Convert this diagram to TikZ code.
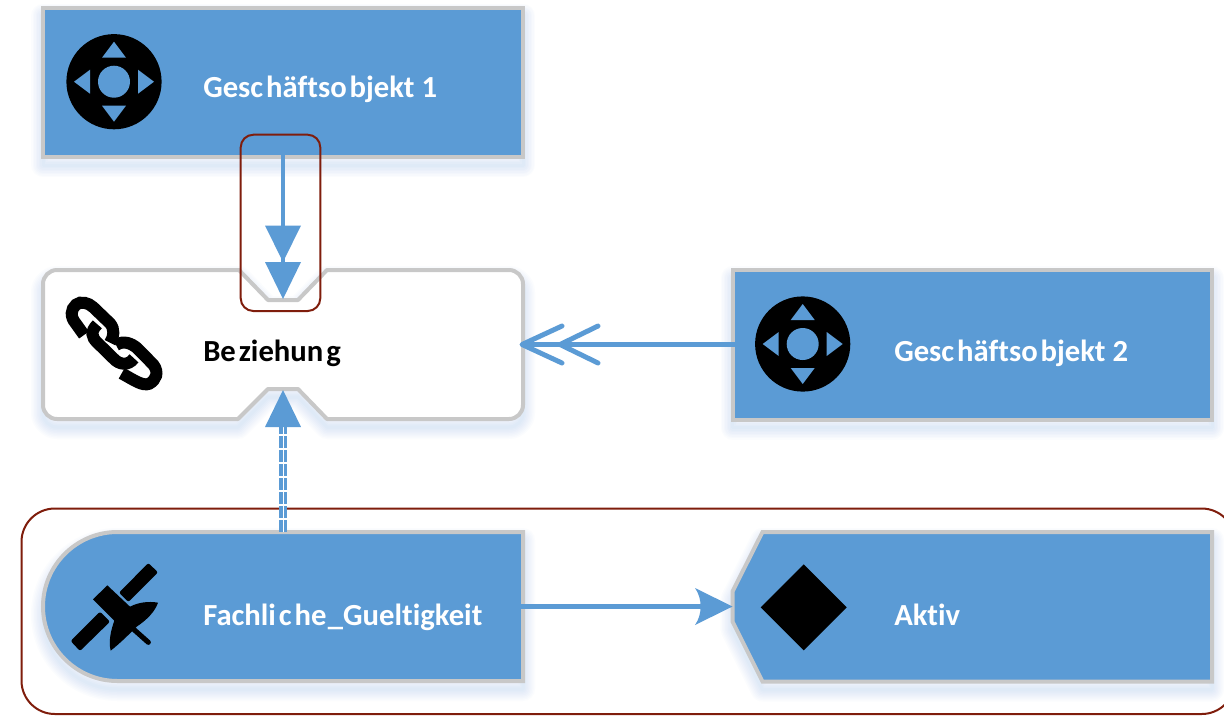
\documentclass[tikz,border=0pt]{standalone}
\usepackage{fontspec}
\setmainfont[RawFeature={-liga;-clig;-dlig}]{Carlito}
\usetikzlibrary{arrows.meta,calc}
\definecolor{bluefill}{HTML}{5B9BD5}
\definecolor{edgegray}{HTML}{C8C8C8}
\definecolor{darkred}{HTML}{7F1D0C}
\newcommand{\softshadow}[1]{%
  \foreach \w in {3,6,9,12,15,18,21,24}{
    \draw[bluefill,opacity=0.025,line width=\w*0.75pt,line join=round,shift={(0,8)}] #1;
  }}
\newcommand{\padicon}[2]{%
  \begin{scope}[shift={(#1,#2)}]
    \fill[black] (0,0) circle[radius=47.6*0.75pt];
    \fill[bluefill] (0,0) circle[radius=16*0.75pt];
    \fill[bluefill] (0,-40) -- (12,-24) -- (-12,-24) -- cycle;
    \fill[bluefill] (0,40) -- (12,24) -- (-12,24) -- cycle;
    \fill[bluefill] (-40,0) -- (-24,12) -- (-24,-12) -- cycle;
    \fill[bluefill] (40,0) -- (24,12) -- (24,-12) -- cycle;
  \end{scope}}
\newcommand{\pathone}{(43,7.5) rectangle (523,157)}
\newcommand{\pathtwo}{(732.5,270) rectangle (1212,419.5)}
\newcommand{\pathbez}{(239,270) -- (57,270) .. controls (49.3,270) and (43,276.3) .. (43,284) -- (43,405) .. controls (43,412.7) and (49.3,419) .. (57,419) -- (238,419) -- (268,389) -- (298,389) -- (327,419) -- (509,419) .. controls (516.7,419) and (523,412.7) .. (523,405) -- (523,284) .. controls (523,276.3) and (516.7,270) .. (509,270) -- (327,270) -- (298,300) -- (268,300) -- cycle}
\newcommand{\pathfach}{(523,532) -- (117.5,532) .. controls (76.4,532) and (43,565.4) .. (43,606.5) .. controls (43,647.6) and (76.4,681) .. (117.5,681) -- (523,681) -- cycle}
\newcommand{\pathaktiv}{(762.5,532) -- (732.5,591.5) -- (732.5,621.5) -- (762.5,681.5) -- (1212,681.5) -- (1212,532) -- cycle}
\newcommand{\gp}{\kern 2.2pt\relax}
\tikzset{
  x=0.75pt,y=-0.75pt,
  frameline/.style={draw=edgegray,line width=3pt,line join=miter},
  bluearea/.style={frameline,fill=bluefill},
  ghost/.style={inner sep=0pt,outer sep=0pt,minimum width=#1*0.75pt,minimum height=149.5*0.75pt},
  redframe/.style={draw=darkred,line width=1.5pt},
  flow/.style={draw=bluefill,line width=3.7pt},
  caption/.style={anchor=base west,inner sep=0pt,font=\fontsize{23pt}{27pt}\selectfont\bfseries},
}
\begin{document}
\begin{tikzpicture}
\useasboundingbox (0,0) rectangle (1224,715);
\clip (0,0) rectangle (1224,715);
\fill[white] (0,0) rectangle (1224,715);

% soft shadows
\softshadow{\pathone}
\softshadow{\pathtwo}
\softshadow{\pathbez}
\softshadow{\pathfach}
\softshadow{\pathaktiv}

% anchor nodes
\node[ghost=480] (g1) at (283,82.25) {};
\node[ghost=480] (bez) at (283,344.5) {};
\node[ghost=479.5] (g2) at (972.25,344.5) {};
\node[ghost=480] (fach) at (283,606.5) {};
\node[ghost=479.5] (aktiv) at (972.25,606.5) {};
\coordinate (beztop) at (283,299);
\coordinate (bezbottom) at (283,390);
\coordinate (dashend) at (283,427);
\coordinate (midhead) at (283,262);

% large group frame
\draw[redframe,rounded corners=25pt] (21.5,508.5) rectangle (1235,714);

% shapes
\draw[bluearea] \pathone;
\draw[bluearea] \pathtwo;
\draw[frameline,fill=white,line join=round] \pathbez;
\draw[bluearea] \pathfach;
\draw[bluearea] \pathaktiv;

% icons
\padicon{114}{81.7}
\padicon{802.7}{344}
\fill[black] (803.7,564.3) -- (846.7,607.3) -- (803.7,650.3) -- (760.7,607.3) -- cycle;

% chain icon
\begin{scope}[shift={(60,290)},x=0.25pt,y=-0.25pt,line width=9pt,black]
  \draw (72,135) -- (47,100) .. controls (30,80) and (32,58) .. (48,44) .. controls (62,32) and (85,38) .. (100,52) -- (150,100) .. controls (165,118) and (162,140) .. (150,158);
  \draw (112,103) .. controls (90,125) and (95,142) .. (112,158) -- (160,205) .. controls (178,225) and (205,228) .. (222,205);
  \draw (168,165) .. controls (190,150) and (215,160) .. (232,175) -- (280,224) .. controls (298,248) and (288,270) .. (268,281) .. controls (248,289) and (225,272) .. (185,250);
\end{scope}

% satellite icon
\begin{scope}[shift={(65,555)},x=0.25pt,y=-0.25pt]
  \fill[black,rounded corners=1.5pt] (250,24) -- (279,52) -- (190,141) -- (162,113) -- cycle;
  \fill[black,rounded corners=1.5pt] (105,170) -- (135,200) -- (45,288) -- (17,258) -- cycle;
  \draw[black,line width=3.8pt,line cap=round] (205,222) -- (250,262);
  \fill[black] (127,91) -- (84,133) -- (148,197) .. controls (138,225) and (130,258) .. (137,287) .. controls (165,265) and (190,240) .. (215,215) .. controls (245,195) and (270,170) .. (279,143) .. controls (250,138) and (220,142) .. (195,155) -- cycle;
\end{scope}

% connectors
\draw[flow] ($(g1.south)+(0,-2)$) -- (midhead);
\fill[bluefill] (265,225.5) -- (301,225.5) -- (midhead) -- cycle;
\fill[bluefill] (midhead) ++(-18,0) -- ++(36,0) -- (beztop) -- cycle;

\draw[bluefill,line width=3pt,double=white,double distance=0.7pt,dash pattern=on 9pt off 1.5pt] (fach.north) -- (dashend);
\fill[bluefill] (dashend) ++(-18,0) -- ++(36,0) -- (bezbottom) -- cycle;

\draw[flow] ($(g2.west)+(2,0)$) -- (bez.east);
\draw[bluefill,line width=3.7pt,line cap=round,line join=round] ($(bez.east)+(39,-18.5)$) -- ($(bez.east)+(-1,0)$) -- ($(bez.east)+(39,18.5)$);
\draw[bluefill,line width=3.7pt,line cap=round,line join=round] ($(bez.east)+(75,-18.5)$) -- ($(bez.east)+(37,0)$) -- ($(bez.east)+(75,18.5)$);

\draw[flow] ($(fach.east)+(-2,0)$) -- ($(aktiv.west)+(-30,0)$);
\begin{scope}[shift={(aktiv.west)}]
  \fill[bluefill] (0,0) -- (-37.5,-18.5) .. controls (-30,-8) and (-30,8) .. (-37.5,18.5) -- cycle;
\end{scope}

% red highlight frame, drawn above arrows
\draw[redframe,rounded corners=9.5pt] (240.7,134.7) rectangle (320.3,311);

% labels
\node[caption,text=white] (t1) at (203,97.5) {Gesc\gp häftso\gp bjekt 1};
\node[caption,text=black] (t2) at (203,361.5) {Be\gp ziehun\gp g};
\node[caption,text=white] (t3) at (894,361.5) {Gesc\gp häftso\gp bjekt 2};
\node[caption,text=white] (t4) at (203,625.5) {Fachli\gp c\gp he\kern1pt\_Gueltigkeit};
\node[caption,text=white] (t5) at (894,625.5) {Aktiv};
\end{tikzpicture}
\end{document}
